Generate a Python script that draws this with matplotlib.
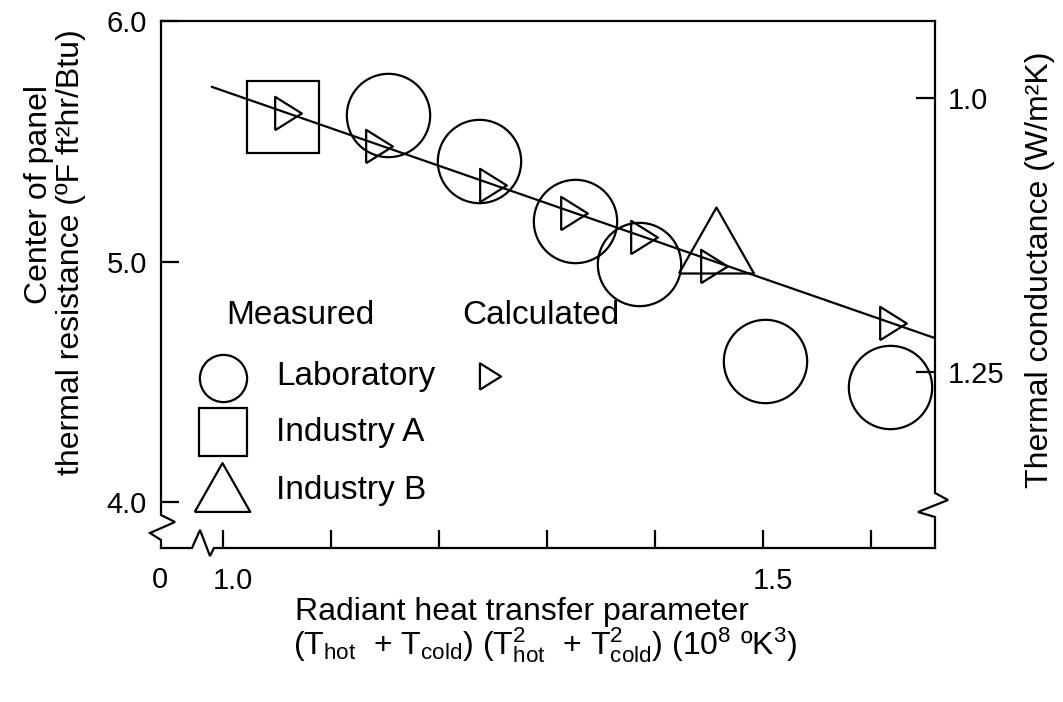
import matplotlib

matplotlib.use("Agg")
import matplotlib.pyplot as plt
import matplotlib.transforms as mtransforms

plt.rcParams["font.family"] = ["Liberation Sans", "DejaVu Sans"]
plt.rcParams["mathtext.fontset"] = "custom"
plt.rcParams["mathtext.rm"] = "Liberation Sans"
plt.rcParams["mathtext.it"] = "Liberation Sans"

# measured, laboratory (circles)
lab_x = [1.153, 1.237, 1.326, 1.385, 1.502, 1.618]
lab_r = [5.61, 5.42, 5.17, 4.99, 4.585, 4.48]
# measured, industry A (square) and industry B (triangle)
ind_a_x, ind_a_r = [1.056], [5.60]
ind_b_x, ind_b_r = [1.457], [5.09]
# calculated (right-pointing triangles)
calc_x = [1.060, 1.145, 1.250, 1.325, 1.390, 1.455, 1.620]
calc_r = [5.617, 5.480, 5.320, 5.203, 5.102, 4.981, 4.743]
# fitted line through calculated values
fit_x = [0.990, 1.659]
fit_r = [5.726, 4.682]

xticks = [1.0, 1.1, 1.2, 1.3, 1.4, 1.5, 1.6]
xticklabels = ["1.0", "", "", "", "", "1.5", ""]
yticks = [4.0, 5.0, 6.0]
yticklabels = ["4.0", "5.0", "6.0"]
uticks = [1.0, 1.25]
uticklabels = ["1.0", "1.25"]

W, H = 1063, 702
fig = plt.figure(figsize=(W / 100, H / 100), dpi=100)
L, R, T, B = 161, 935, 21, 548
ax = fig.add_axes([L / W, 1 - B / H, (R - L) / W, (B - T) / H])
ax.set_xlim(0.9428, 1.6593)
ax.set_ylim(3.809, 6.0)

lw = 1.6
tri = [(-0.8, -1.0), (0.8, 0.0), (-0.8, 1.0), (-0.8, -1.0)]
up = [(-1.0, -0.88), (0.0, 0.88), (1.0, -0.88), (-1.0, -0.88)]
ax.plot(fit_x, fit_r, color="black", lw=lw, zorder=2)
ax.plot(lab_x, lab_r, "o", ms=60, mfc="none", mec="black", mew=lw, zorder=3)
ax.plot(ind_a_x, ind_a_r, "s", ms=52, mfc="none", mec="black", mew=lw, zorder=3)
ax.plot(ind_b_x, ind_b_r, marker=up, ls="none", ms=54, mfc="none", mec="black",
        mew=lw, zorder=3)
ax.plot(calc_x, calc_r, marker=tri, ls="none", ms=24, mfc="none", mec="black",
        mew=lw, zorder=4)

# spines with break marks (drawn by hand)
for s in ("left", "right", "bottom"):
    ax.spines[s].set_visible(False)
ax.spines["top"].set_linewidth(lw)


def px(x, y):
    return (x - L) / (R - L), (B - y) / (B - T)


def poly(pts):
    xs, ys = zip(*[px(*p) for p in pts])
    ax.plot(xs, ys, color="black", lw=lw, transform=ax.transAxes, clip_on=False,
            solid_joinstyle="miter")


poly([(161, 21), (161, 515), (175, 522), (150, 533), (161, 540), (161, 548)])
poly([(935, 21), (935, 493), (948, 500), (918, 512), (935, 517), (935, 548)])
poly([(161, 548), (192, 548), (200, 530), (210, 556), (214, 548), (935, 548)])

ax.set_xticks(xticks)
ax.set_xticklabels(xticklabels)
ax.set_yticks(yticks)
ax.set_yticklabels(yticklabels)
ax.tick_params(direction="in", length=13, width=lw, labelsize=21)
ax.tick_params(axis="y", pad=10)
ax.tick_params(axis="x", pad=14)
shift = mtransforms.ScaledTranslation(0.10, 0, fig.dpi_scale_trans)
for lab in ax.get_xticklabels():
    lab.set_transform(lab.get_transform() + shift)
ax.text(*px(160, 566), "0", transform=ax.transAxes, ha="center", va="top", fontsize=21)

sec = ax.secondary_yaxis("right", functions=(lambda r: 5.678 / r, lambda u: 5.678 / u))
sec.spines["right"].set_visible(False)
sec.set_yticks(uticks)
sec.set_yticklabels(uticklabels)
sec.tick_params(direction="in", length=14, width=lw, labelsize=21, pad=9)

# legend, hand placed
fs = 24
ax.text(*px(226, 316), "Measured", transform=ax.transAxes, fontsize=fs, va="center")
ax.text(*px(462, 316), "Calculated", transform=ax.transAxes, fontsize=fs, va="center")
ax.plot(*px(223, 378), "o", ms=34, mfc="none", mec="black", mew=lw, transform=ax.transAxes)
ax.plot(*px(223, 432), "s", ms=34, mfc="none", mec="black", mew=lw, transform=ax.transAxes)
ax.plot(*px(222, 487), marker=up, ms=40, mfc="none", mec="black", mew=lw,
        transform=ax.transAxes)
ax.plot(*px(490, 376), marker=tri, ms=19, mfc="none", mec="black", mew=lw,
        transform=ax.transAxes)
ax.text(*px(276, 376), "Laboratory", transform=ax.transAxes, fontsize=fs, va="center")
ax.text(*px(276, 432), "Industry A", transform=ax.transAxes, fontsize=fs, va="center")
ax.text(*px(276, 490), "Industry B", transform=ax.transAxes, fontsize=fs, va="center")

# axis titles
fig.text(39 / W, 1 - 195 / H, "Center of panel", rotation=90, ha="center", va="center",
         fontsize=23)
fig.text(71 / W, 1 - 252 / H, "thermal resistance (ºF ft²hr/Btu)", rotation=90,
         ha="center", va="center", fontsize=23)
fig.text(1040 / W, 1 - 270 / H, "Thermal conductance (W/m²K)", rotation=90,
         ha="center", va="center", fontsize=23)
fig.text(522 / W, 1 - 612 / H, "Radiant heat transfer parameter", ha="center",
         va="center", fontsize=23)
fig.text(545 / W, 1 - 645 / H,
         r"(T$_{\rm hot}$  + T$_{\rm cold}$) (T$^2_{\rm hot}$  + T$^2_{\rm cold}$) (10$^8$ ºK$^3$)",
         ha="center", va="center", fontsize=23)

fig.savefig("out.png", dpi=100)
